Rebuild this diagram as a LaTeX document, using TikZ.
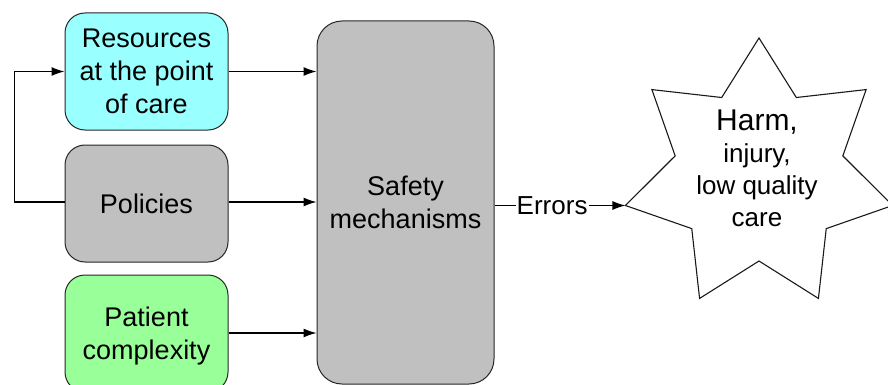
\documentclass[tikz,border=0pt]{standalone}
\usepackage{fontspec}
\setmainfont{Liberation Sans}
\usetikzlibrary{arrows.meta}
\definecolor{cyanbox}{HTML}{99FFFF}
\definecolor{graybox}{HTML}{C0C0C0}
\definecolor{greenbox}{HTML}{99FF99}
\begin{document}
\begin{tikzpicture}[x=1pt,y=-1pt,
  box/.style={draw=black!85, line width=1pt, rounded corners=20pt,
    minimum width=163pt, minimum height=117pt, align=center,
    font=\fontsize{27}{33}\selectfont, inner sep=0pt},
  conn/.style={line width=1.1pt, -{Latex[length=13pt,width=9pt]}},
  starline/.style={draw=black!90, line width=1.1pt, line join=miter},
]
\useasboundingbox (0,0) rectangle (888,385);
\node[box, fill=cyanbox] (res) at (146.5,71.5) {Resources\\at the point\\of care};
\node[box, fill=graybox] (pol) at (146.5,203.5) {Policies};
\node[box, fill=greenbox, text depth=0pt] (pat) at (146.5,333.5) {Patient\\complexity};
\node[box, fill=graybox, rounded corners=25pt, minimum width=177pt, minimum height=363pt] (saf) at (405.5,202.5) {Safety\\mechanisms};
\begin{scope}[shift={(759,175)}]
  \draw[starline] (-90:137) -- (-64.29:86) -- (-38.57:137) -- (-12.86:86)
    -- (12.86:137) -- (38.57:86) -- (64.29:137) -- (90:86)
    -- (115.71:137) -- (141.43:86) -- (167.14:137) -- (192.86:86)
    -- (218.57:137) -- (244.29:86) -- cycle;
  \coordinate (tip) at (167.14:137);
\end{scope}
\node[align=center, inner sep=0pt, font=\fontsize{26}{32}\selectfont] (harmtext) at (757,168) {{\fontsize{30}{32}\selectfont Harm,}\\injury,\\low quality\\care};
\draw[conn] (res.east) -- (saf.west |- res.east);
\draw[conn] (pol.east |- 0,202) -- (saf.west |- 0,202);
\draw[conn] (pat.east |- 0,333) -- (saf.west |- 0,333);
\draw[conn] (pol.west |- 0,202) -- ++(-50,0) |- (res.west);
\draw[conn] (saf.east |- tip) -- node[pos=0.44, fill=white, inner sep=1pt, font=\fontsize{26}{30}\selectfont] (err) {Errors} (tip);
\end{tikzpicture}
\end{document}
